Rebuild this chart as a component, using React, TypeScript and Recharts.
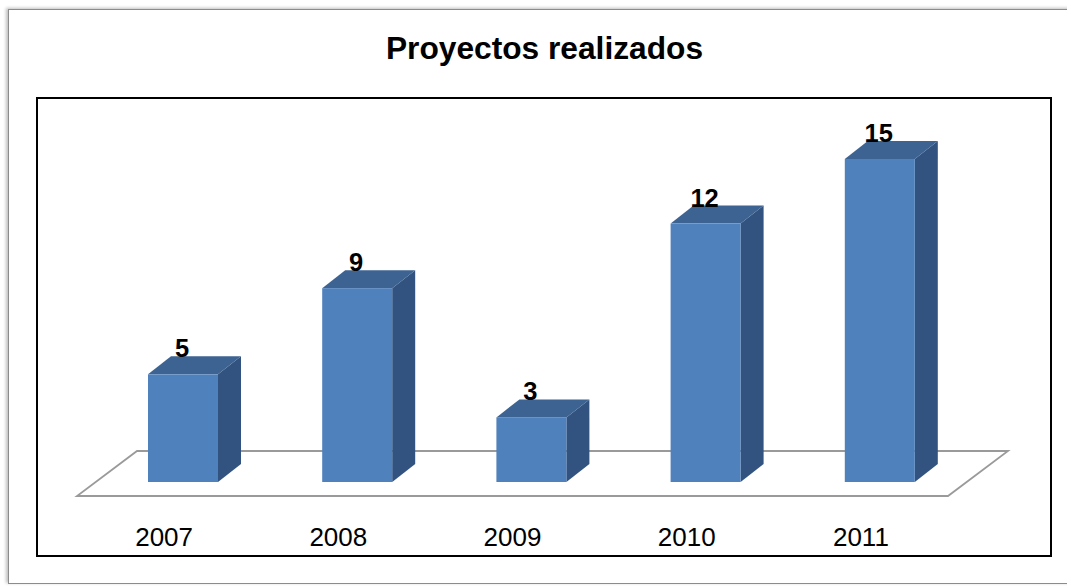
import { BarChart, Bar, XAxis, YAxis, LabelList, ReferenceArea } from "recharts";

const years = ["2007", "2008", "2009", "2010", "2011"];
const proyectos = [5, 9, 3, 12, 15];

const chartData = years.map((year, i) => ({ year, proyectos: proyectos[i] }));

// offsets of the pseudo-3D look
const SHIFT = 19; // bar front face sits inside the floor depth
const DX = 23;
const DY = 18;

function Prism(props: any) {
  const { x, y, width, height } = props;
  const fx = x + SHIFT;
  const top = `${fx},${y} ${fx + DX},${y - DY} ${fx + width + DX},${y - DY} ${fx + width},${y}`;
  const side = `${fx + width},${y} ${fx + width + DX},${y - DY} ${fx + width + DX},${y + height - DY} ${fx + width},${y + height}`;
  return (
    <g>
      <polygon points={side} fill="#325380" />
      <polygon points={top} fill="#3C6392" />
      <rect x={fx} y={y} width={width} height={height} fill="#4F81BD" />
    </g>
  );
}

function Floor(props: any) {
  const { x, y, width, height } = props;
  const base = y + height;
  const pts = `${x},${base + 14} ${x + width},${base + 14} ${x + width + 60},${base - 31} ${x + 60},${base - 31}`;
  return <polygon points={pts} fill="#fff" stroke="#9a9a9a" strokeWidth={1.8} />;
}

function YearTick(props: any) {
  const { x, y, payload } = props;
  return (
    <text
      x={x}
      y={y + 64}
      textAnchor="middle"
      fontSize={26}
      fontFamily="'Liberation Sans', Arial, sans-serif"
      fill="#000"
    >
      {payload.value}
    </text>
  );
}

function ValueLabel(props: any) {
  const { x, y, width, value } = props;
  return (
    <text
      x={x + width / 2 + SHIFT - 1}
      y={y - 17}
      textAnchor="middle"
      fontSize={25.5}
      fontWeight="bold"
      fontFamily="'Liberation Sans', Arial, sans-serif"
      fill="#000"
    >
      {value}
    </text>
  );
}

export default function App() {
  return (
    <div
      style={{
        position: "fixed",
        left: 0,
        top: 0,
        width: 1067,
        height: 586,
        overflow: "hidden",
        background: "#fff",
      }}
    >
      <div
        style={{
          position: "absolute",
          left: 8,
          top: 9,
          width: 1090,
          height: 573,
          border: "1px solid #8c8c8c",
          boxShadow: "-2px -1px 3px rgba(0,0,0,0.25)",
          background: "#fff",
        }}
      />
      <div
        style={{
          position: "absolute",
          left: 0,
          top: 33,
          width: 1089,
          textAlign: "center",
          fontFamily: "'Liberation Sans', Arial, sans-serif",
          fontWeight: "bold",
          fontSize: 31.7,
          lineHeight: "31px",
          color: "#000",
        }}
      >
        Proyectos realizados
      </div>
      <div
        style={{
          position: "absolute",
          left: 36,
          top: 97,
          width: 1012,
          height: 456,
          border: "2px solid #000",
        }}
      />
      <div style={{ position: "absolute", left: 0, top: 0 }}>
        <BarChart
          width={1067}
          height={586}
          data={chartData}
          margin={{ top: 159, right: 119, bottom: 74, left: 77 }}
        >
          <YAxis hide domain={[0, 15]} />
          <XAxis
            dataKey="year"
            height={30}
            axisLine={false}
            tickLine={false}
            tickSize={0}
            tickMargin={0}
            tick={<YearTick />}
            interval={0}
          />
          <ReferenceArea y1={0} y2={15} shape={<Floor />} />
          <Bar
            dataKey="proyectos"
            barSize={70}
            shape={<Prism />}
            isAnimationActive={false}
          >
            <LabelList dataKey="proyectos" content={<ValueLabel />} />
          </Bar>
        </BarChart>
      </div>
    </div>
  );
}
